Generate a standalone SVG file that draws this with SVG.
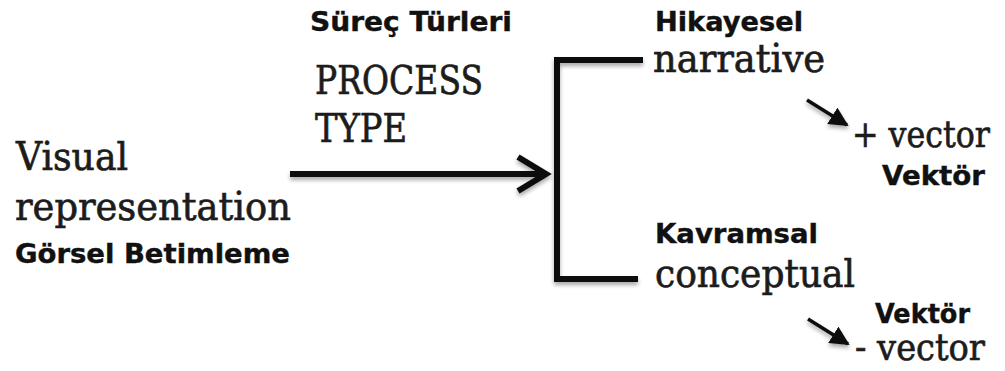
<svg xmlns="http://www.w3.org/2000/svg" width="1005" height="371" viewBox="0 0 1005 371">
  <defs>
    <style>
      .serif { font-family: "DejaVu Serif", "Liberation Serif", serif; font-size: 40px; fill: #1c1c1c; stroke: #1c1c1c; stroke-width: 0.7px; }
      .serif.sm { font-size: 38px; }
      .label { font-family: "DejaVu Sans", "Liberation Sans", sans-serif; font-weight: bold; font-size: 26px; fill: #111; stroke: #111; stroke-width: 0.4px; }
      .line { fill: none; stroke: #0a0a0a; stroke-width: 6; }
      .thin { fill: none; stroke: #111; stroke-width: 3.5; }
    </style>
    <filter id="shadow" x="-10%" y="-10%" width="120%" height="140%">
      <feGaussianBlur in="SourceAlpha" stdDeviation="2"/>
      <feOffset dx="0" dy="3" result="b"/>
      <feComponentTransfer><feFuncA type="linear" slope="0.35"/></feComponentTransfer>
      <feMerge><feMergeNode/><feMergeNode in="SourceGraphic"/></feMerge>
    </filter>
    <marker id="tri" viewBox="0 0 10 10" refX="9" refY="5" markerWidth="5.5" markerHeight="5.5" orient="auto" markerUnits="strokeWidth">
      <path d="M0,0 L10,5 L0,10 Z" fill="#111"/>
    </marker>
  </defs>
  <rect width="1005" height="371" fill="#fff"/>

  <g id="connectors" filter="url(#shadow)">
    <!-- main arrow into the bracket -->
    <path class="line" d="M290,174 H543"/>
    <path class="line" d="M518,157 L546,174 L518,191" stroke-linejoin="miter"/>
    <!-- bracket splitting into the two process types -->
    <path class="line" d="M643,60 H557 V279 H638" stroke-linejoin="miter"/>
    <!-- vector arrows -->
    <path class="thin" d="M807,100 L847,125" marker-end="url(#tri)"/>
    <path class="thin" d="M808,319 L848,344" marker-end="url(#tri)"/>
  </g>

  <g id="visual-representation">
    <text class="serif" x="16" y="170" textLength="112" lengthAdjust="spacingAndGlyphs">Visual</text>
    <text class="serif" x="15" y="220" textLength="276" lengthAdjust="spacingAndGlyphs">representation</text>
    <text class="label" x="15" y="263" textLength="275" lengthAdjust="spacingAndGlyphs">Görsel Betimleme</text>
  </g>

  <g id="process-type">
    <text class="label" x="310" y="31" textLength="202" lengthAdjust="spacingAndGlyphs">Süreç Türleri</text>
    <text class="serif" x="315" y="94" textLength="168" lengthAdjust="spacingAndGlyphs">PROCESS</text>
    <text class="serif" x="315" y="142" textLength="92" lengthAdjust="spacingAndGlyphs">TYPE</text>
  </g>

  <g id="narrative">
    <text class="label" x="655" y="31" textLength="148" lengthAdjust="spacingAndGlyphs">Hikayesel</text>
    <text class="serif" x="653" y="72" textLength="172" lengthAdjust="spacingAndGlyphs">narrative</text>
  </g>

  <g id="plus-vector">
    <text class="serif sm" x="852" y="147" textLength="138" lengthAdjust="spacingAndGlyphs">+ vector</text>
    <text class="label" x="882" y="185" textLength="103" lengthAdjust="spacingAndGlyphs">Vektör</text>
  </g>

  <g id="conceptual">
    <text class="label" x="655" y="243" textLength="163" lengthAdjust="spacingAndGlyphs">Kavramsal</text>
    <text class="serif" x="655" y="287" textLength="200" lengthAdjust="spacingAndGlyphs">conceptual</text>
  </g>

  <g id="minus-vector">
    <text class="label" x="875" y="323" textLength="95" lengthAdjust="spacingAndGlyphs">Vektör</text>
    <text class="serif sm" x="855" y="360" textLength="130" lengthAdjust="spacingAndGlyphs">- vector</text>
  </g>
</svg>
